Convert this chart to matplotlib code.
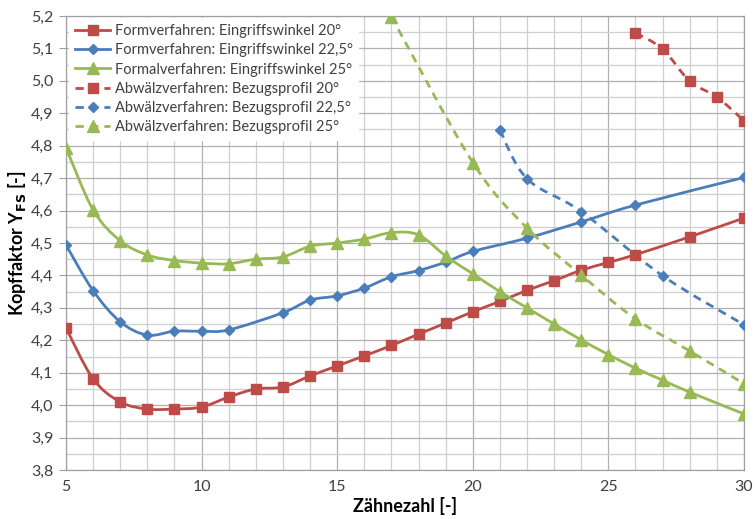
import numpy as np
import matplotlib
matplotlib.use("Agg")
import matplotlib.pyplot as plt
from matplotlib.path import Path
from matplotlib.patches import PathPatch
from matplotlib.ticker import MultipleLocator, FuncFormatter

plt.rcParams['font.family'] = ['Lato', 'DejaVu Sans']

# Formverfahren (solid lines)
form20_x = [5, 6, 7, 8, 9, 10, 11, 12, 13, 14, 15, 16, 17, 18, 19, 20, 21, 22, 23, 24, 25, 26, 28, 30]
form20_y = [4.238, 4.081, 4.010, 3.988, 3.988, 3.994, 4.025, 4.050, 4.056, 4.090, 4.121, 4.152,
            4.184, 4.219, 4.253, 4.288, 4.320, 4.354, 4.384, 4.416, 4.440, 4.464, 4.519, 4.577]

form225_x = [5, 6, 7, 8, 9, 10, 11, 13, 14, 15, 16, 17, 18, 19, 20, 22, 24, 26, 30]
form225_y = [4.494, 4.353, 4.257, 4.216, 4.228, 4.228, 4.232, 4.285, 4.324, 4.337, 4.361,
             4.396, 4.415, 4.441, 4.474, 4.515, 4.565, 4.617, 4.702]

form25_x = [5, 6, 7, 8, 9, 10, 11, 12, 13, 14, 15, 16, 17, 18, 19, 20, 21, 22, 23, 24, 25, 26, 27, 28, 30]
form25_y = [4.794, 4.602, 4.507, 4.463, 4.446, 4.438, 4.436, 4.450, 4.457, 4.490, 4.500, 4.512,
            4.532, 4.525, 4.460, 4.405, 4.350, 4.300, 4.250, 4.201, 4.156, 4.114, 4.077, 4.040, 3.973]

# Abwälzverfahren (dashed lines)
abw20_x = [26, 27, 28, 29, 30]
abw20_y = [5.148, 5.098, 4.999, 4.950, 4.877]

abw225_x = [21, 22, 24, 27, 30]
abw225_y = [4.848, 4.698, 4.597, 4.399, 4.248]

abw25_x = [17, 20, 22, 24, 26, 28, 30]
abw25_y = [5.198, 4.748, 4.546, 4.401, 4.266, 4.167, 4.066]

labels = [
    'Formverfahren: Eingriffswinkel 20°',
    'Formverfahren: Eingriffswinkel 22,5°',
    'Formalverfahren: Eingriffswinkel 25°',
    'Abwälzverfahren: Bezugsprofil 20°',
    'Abwälzverfahren: Bezugsprofil 22,5°',
    'Abwälzverfahren: Bezugsprofil 25°',
]

RED = '#be4b48'
BLUE = '#4a7ebb'
GREEN = '#98b954'


def smooth_path(xs, ys):
    # Excel-like smoothed line as cubic bezier segments through the data points
    pts = np.column_stack([xs, ys]).astype(float)
    n = len(pts)
    verts = [pts[0]]
    codes = [Path.MOVETO]
    for i in range(n - 1):
        p0 = pts[i - 1] if i > 0 else pts[i]
        p1 = pts[i]
        p2 = pts[i + 1]
        p3 = pts[i + 2] if i + 2 < n else pts[i + 1]
        c1 = p1 + (p2 - p0) / 6.0
        c2 = p2 - (p3 - p1) / 6.0
        verts += [c1, c2, p2]
        codes += [Path.CURVE4] * 3
    return Path(verts, codes)


def draw_series(ax, xs, ys, color, marker, ms, ls, label):
    patch = PathPatch(smooth_path(xs, ys), facecolor='none', edgecolor=color,
                      lw=2.0, linestyle=ls, zorder=3)
    ax.add_patch(patch)
    ax.plot(xs, ys, linestyle='none', marker=marker, ms=ms, color=color, zorder=4)
    # proxy for legend
    ax.plot([], [], color=color, lw=2.0, linestyle=ls, marker=marker, ms=ms, label=label)


fig = plt.figure(figsize=(7.55, 5.19), dpi=100)
ax = fig.add_axes([0.0874, 0.0944, 0.898, 0.8748])

draw_series(ax, form20_x, form20_y, RED, 's', 7.5, '-', labels[0])
draw_series(ax, form225_x, form225_y, BLUE, 'D', 5.5, '-', labels[1])
draw_series(ax, form25_x, form25_y, GREEN, '^', 8.5, '-', labels[2])
draw_series(ax, abw20_x, abw20_y, RED, 's', 7.5, (0, (3, 2.2)), labels[3])
draw_series(ax, abw225_x, abw225_y, BLUE, 'D', 5.5, (0, (3, 2.2)), labels[4])
draw_series(ax, abw25_x, abw25_y, GREEN, '^', 8.5, (0, (3, 2.2)), labels[5])

ax.set_xlim(5, 30)
ax.set_ylim(3.8, 5.2)
ax.xaxis.set_major_locator(MultipleLocator(5))
ax.xaxis.set_minor_locator(MultipleLocator(1))
ax.yaxis.set_major_locator(MultipleLocator(0.1))
ax.yaxis.set_minor_locator(MultipleLocator(0.05))
ax.yaxis.set_major_formatter(FuncFormatter(lambda v, p: f'{v:.1f}'.replace('.', ',')))
ax.xaxis.set_major_formatter(FuncFormatter(lambda v, p: f'{v:.0f}'))

ax.grid(True, which='major', color='#b0b0b0', lw=0.9)
ax.grid(True, which='minor', color='#cfcfcf', lw=0.9)
ax.set_axisbelow(True)
for s in ax.spines.values():
    s.set_color('#a0a0a0')
    s.set_linewidth(0.9)

ax.tick_params(axis='y', which='major', length=5, color='#a0a0a0', labelsize=11.5, pad=4, labelcolor='#404040')
ax.tick_params(axis='x', which='major', length=0, labelsize=11.5, pad=7, labelcolor='#404040')
ax.tick_params(which='minor', length=0)

ax.set_xlabel('Zähnezahl [-]', fontsize=13, fontweight='bold', labelpad=2)
ax.set_ylabel(r'Kopffaktor Y$_{\mathbf{FS}}$ [-]', fontsize=13, fontweight='bold', labelpad=2)

leg = ax.legend(loc='upper left', bbox_to_anchor=(0.005, 0.995), fontsize=10.5, frameon=True,
                fancybox=False, edgecolor='white', framealpha=1.0, handlelength=2.4,
                handletextpad=0.3, labelspacing=0.36, borderpad=0.4, borderaxespad=0.0)
for t in leg.get_texts():
    t.set_color('#404040')

fig.savefig('out.png', dpi=100)
